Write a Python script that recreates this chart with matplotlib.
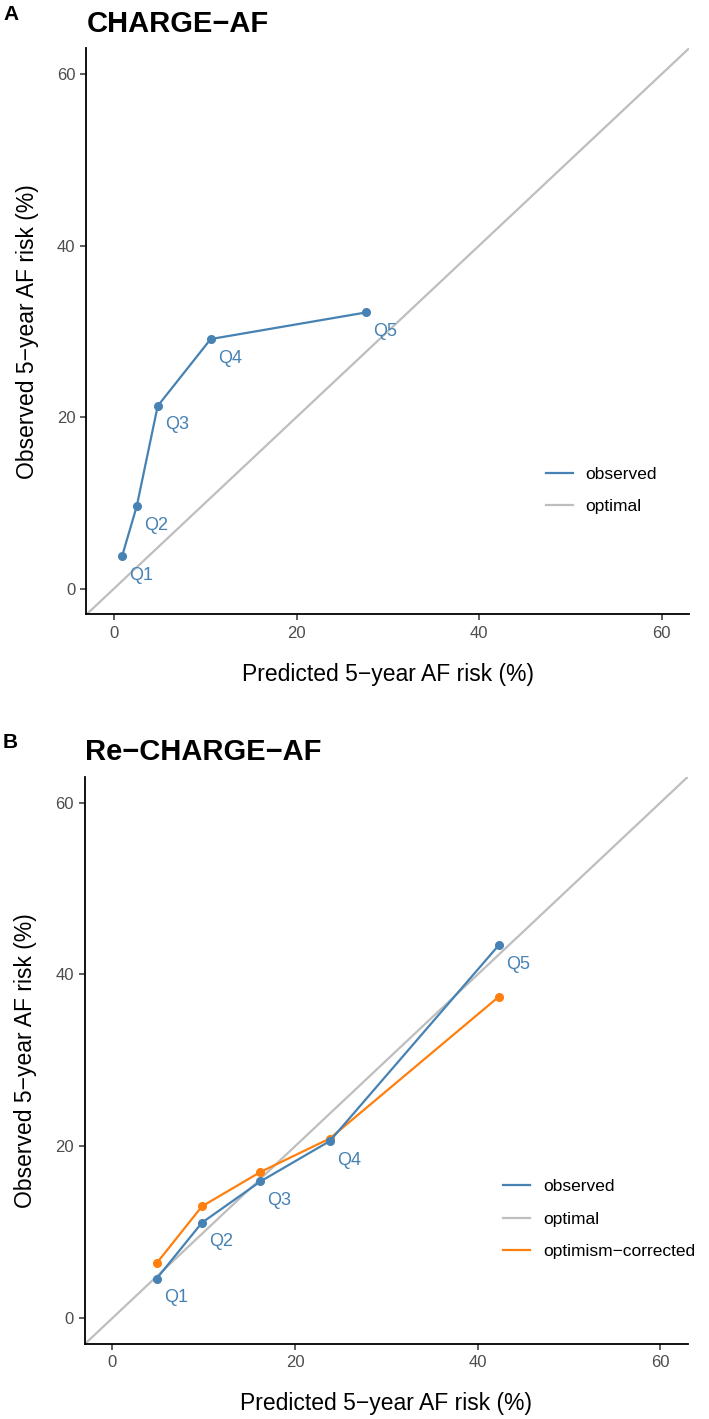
import matplotlib
matplotlib.use("Agg")
import matplotlib.pyplot as plt
from matplotlib.lines import Line2D

plt.rcParams['font.family'] = ['Liberation Sans', 'DejaVu Sans']

quintiles = ["Q1", "Q2", "Q3", "Q4", "Q5"]

# panel A: CHARGE-AF
a_pred = [0.9, 2.5, 4.8, 10.6, 27.6]
a_obs = [3.8, 9.6, 21.3, 29.1, 32.2]

# panel B: Re-CHARGE-AF
b_pred = [4.85, 9.8, 16.2, 23.8, 42.3]
b_obs = [4.6, 11.1, 15.9, 20.6, 43.4]
b_corr = [6.4, 13.0, 17.0, 20.9, 37.4]

ticks = [0, 20, 40, 60]

BLUE = "#4682B4"
ORANGE = "#FF7F0E"
GRAY = "#BEBEBE"
TICKCOL = "#4D4D4D"


def style_axes(ax, title):
    ax.set_xlim(-3, 63)
    ax.set_ylim(-3, 63)
    ax.set_xticks(ticks)
    ax.set_yticks(ticks)
    for s in ["top", "right"]:
        ax.spines[s].set_visible(False)
    for s in ["left", "bottom"]:
        ax.spines[s].set_linewidth(1.3)
        ax.spines[s].set_color("black")
    ax.tick_params(length=4, width=1.1, color="#333333", labelcolor=TICKCOL,
                   labelsize=12, pad=4)
    ax.set_xlabel("Predicted 5\u2212year AF risk (%)", fontsize=16.5, labelpad=16)
    ax.set_ylabel("Observed 5\u2212year AF risk (%)", fontsize=16.5, labelpad=13)
    ax.set_title(title, fontsize=21, fontweight="bold", loc="left", pad=12)


def add_labels(ax, xs, ys):
    for q, x, y in zip(quintiles, xs, ys):
        ax.annotate(q, (x, y), xytext=(7, -19), textcoords="offset pixels",
                    color=BLUE, fontsize=13, ha="left", va="center")


fig = plt.figure(figsize=(7.09, 14.19), dpi=100)
ax1 = fig.add_axes([0.122, 0.567, 0.850, 0.399])
ax2 = fig.add_axes([0.120, 0.053, 0.850, 0.3995])

# panel letters
fig.text(3 / 709, 1 - 15 / 1419, "A", fontsize=15, fontweight="bold", ha="left", va="center")
fig.text(3 / 709, 1 - 743 / 1419, "B", fontsize=15, fontweight="bold", ha="left", va="center")

# panel A
ax1.axline((0, 0), slope=1, color=GRAY, lw=1.6, zorder=1)
ax1.plot(a_pred, a_obs, color=BLUE, lw=1.6, marker="o", ms=5.5, zorder=3)
add_labels(ax1, a_pred, a_obs)
style_axes(ax1, "CHARGE\u2212AF")
h1 = [Line2D([], [], color=BLUE, lw=1.6), Line2D([], [], color=GRAY, lw=1.6)]
ax1.legend(h1, ["observed", "optimal"], loc="center left",
           bbox_to_anchor=(0.736, 0.219), frameon=False, fontsize=12.5,
           handlelength=1.55, handletextpad=0.75, labelspacing=1.0)

# panel B
ax2.axline((0, 0), slope=1, color=GRAY, lw=1.6, zorder=1)
ax2.plot(b_pred, b_corr, color=ORANGE, lw=1.6, marker="o", ms=5.5, zorder=2)
ax2.plot(b_pred, b_obs, color=BLUE, lw=1.6, marker="o", ms=5.5, zorder=3)
add_labels(ax2, b_pred, b_obs)
style_axes(ax2, "Re\u2212CHARGE\u2212AF")
h2 = [Line2D([], [], color=BLUE, lw=1.6), Line2D([], [], color=GRAY, lw=1.6),
      Line2D([], [], color=ORANGE, lw=1.6)]
ax2.legend(h2, ["observed", "optimal", "optimism\u2212corrected"], loc="center left",
           bbox_to_anchor=(0.668, 0.220), frameon=False, fontsize=12.5,
           handlelength=1.55, handletextpad=0.75, labelspacing=1.0)

fig.savefig("out.png", dpi=100)
